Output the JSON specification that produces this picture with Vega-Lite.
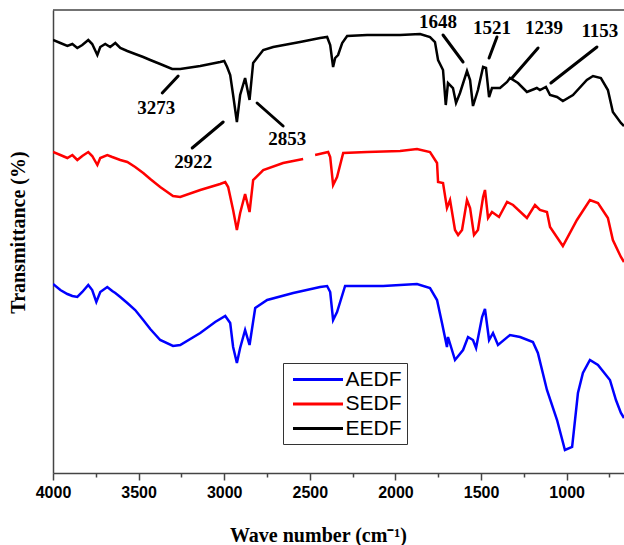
{
  "$schema": "https://vega.github.io/schema/vega-lite/v6.json",
  "autosize": "none",
  "width": 571,
  "height": 463,
  "padding": {"left": 53, "top": 10, "right": 0, "bottom": 72},
  "background": "white",
  "config": {
    "view": {"stroke": null},
    "axis": {"domainColor": "#444", "domainWidth": 1.5, "grid": false}
  },
  "datasets": {
    "spectra": [
      {"w":4000,"t":433,"s":"EEDF"},{"w":3957,"t":430,"s":"EEDF"},{"w":3916,"t":427,"s":"EEDF"},{"w":3887,"t":429,"s":"EEDF"},{"w":3858,"t":425,"s":"EEDF"},{"w":3829,"t":428,"s":"EEDF"},{"w":3794,"t":433,"s":"EEDF"},{"w":3771,"t":429,"s":"EEDF"},{"w":3741,"t":418,"s":"EEDF"},{"w":3724,"t":426,"s":"EEDF"},{"w":3695,"t":429,"s":"EEDF"},{"w":3666,"t":426,"s":"EEDF"},{"w":3636,"t":430,"s":"EEDF"},{"w":3607,"t":425,"s":"EEDF"},{"w":3566,"t":422,"s":"EEDF"},{"w":3520,"t":419,"s":"EEDF"},{"w":3473,"t":416,"s":"EEDF"},{"w":3432,"t":413,"s":"EEDF"},{"w":3374,"t":409,"s":"EEDF"},{"w":3304,"t":404,"s":"EEDF"},{"w":3257,"t":404,"s":"EEDF"},{"w":3140,"t":407,"s":"EEDF"},{"w":3024,"t":411,"s":"EEDF"},{"w":3000,"t":412,"s":"EEDF"},{"w":2983,"t":406,"s":"EEDF"},{"w":2965,"t":398,"s":"EEDF"},{"w":2948,"t":378,"s":"EEDF"},{"w":2926,"t":351,"s":"EEDF"},{"w":2907,"t":378,"s":"EEDF"},{"w":2878,"t":395,"s":"EEDF"},{"w":2852,"t":373,"s":"EEDF"},{"w":2831,"t":410,"s":"EEDF"},{"w":2772,"t":423,"s":"EEDF"},{"w":2714,"t":426,"s":"EEDF"},{"w":2557,"t":431,"s":"EEDF"},{"w":2440,"t":435,"s":"EEDF"},{"w":2399,"t":436,"s":"EEDF"},{"w":2381,"t":428,"s":"EEDF"},{"w":2364,"t":406,"s":"EEDF"},{"w":2352,"t":415,"s":"EEDF"},{"w":2335,"t":418,"s":"EEDF"},{"w":2311,"t":430,"s":"EEDF"},{"w":2282,"t":437,"s":"EEDF"},{"w":2165,"t":438,"s":"EEDF"},{"w":1973,"t":438,"s":"EEDF"},{"w":1856,"t":439,"s":"EEDF"},{"w":1798,"t":436,"s":"EEDF"},{"w":1769,"t":431,"s":"EEDF"},{"w":1751,"t":413,"s":"EEDF"},{"w":1722,"t":403,"s":"EEDF"},{"w":1706,"t":368,"s":"EEDF"},{"w":1693,"t":390,"s":"EEDF"},{"w":1664,"t":385,"s":"EEDF"},{"w":1646,"t":370,"s":"EEDF"},{"w":1623,"t":380,"s":"EEDF"},{"w":1582,"t":402,"s":"EEDF"},{"w":1564,"t":393,"s":"EEDF"},{"w":1547,"t":367,"s":"EEDF"},{"w":1518,"t":383,"s":"EEDF"},{"w":1488,"t":406,"s":"EEDF"},{"w":1471,"t":405,"s":"EEDF"},{"w":1453,"t":376,"s":"EEDF"},{"w":1436,"t":385,"s":"EEDF"},{"w":1389,"t":385,"s":"EEDF"},{"w":1348,"t":391,"s":"EEDF"},{"w":1331,"t":395,"s":"EEDF"},{"w":1284,"t":390,"s":"EEDF"},{"w":1232,"t":381,"s":"EEDF"},{"w":1174,"t":385,"s":"EEDF"},{"w":1156,"t":383,"s":"EEDF"},{"w":1121,"t":386,"s":"EEDF"},{"w":1097,"t":378,"s":"EEDF"},{"w":1056,"t":376,"s":"EEDF"},{"w":1022,"t":372,"s":"EEDF"},{"w":963,"t":378,"s":"EEDF"},{"w":882,"t":393,"s":"EEDF"},{"w":846,"t":397,"s":"EEDF"},{"w":800,"t":395,"s":"EEDF"},{"w":759,"t":383,"s":"EEDF"},{"w":730,"t":361,"s":"EEDF"},{"w":683,"t":350,"s":"EEDF"},{"w":665,"t":347,"s":"EEDF"},
      {"w":4000,"t":321,"s":"SEDF"},{"w":3957,"t":318,"s":"SEDF"},{"w":3916,"t":315,"s":"SEDF"},{"w":3887,"t":318,"s":"SEDF"},{"w":3858,"t":313,"s":"SEDF"},{"w":3829,"t":317,"s":"SEDF"},{"w":3794,"t":321,"s":"SEDF"},{"w":3771,"t":317,"s":"SEDF"},{"w":3741,"t":308,"s":"SEDF"},{"w":3724,"t":315,"s":"SEDF"},{"w":3683,"t":318,"s":"SEDF"},{"w":3654,"t":316,"s":"SEDF"},{"w":3607,"t":313,"s":"SEDF"},{"w":3566,"t":311,"s":"SEDF"},{"w":3520,"t":306,"s":"SEDF"},{"w":3473,"t":300,"s":"SEDF"},{"w":3432,"t":294,"s":"SEDF"},{"w":3374,"t":286,"s":"SEDF"},{"w":3299,"t":277,"s":"SEDF"},{"w":3257,"t":276,"s":"SEDF"},{"w":3140,"t":283,"s":"SEDF"},{"w":3024,"t":289,"s":"SEDF"},{"w":2994,"t":291,"s":"SEDF"},{"w":2977,"t":286,"s":"SEDF"},{"w":2948,"t":263,"s":"SEDF"},{"w":2926,"t":243,"s":"SEDF"},{"w":2907,"t":260,"s":"SEDF"},{"w":2878,"t":279,"s":"SEDF"},{"w":2852,"t":261,"s":"SEDF"},{"w":2831,"t":293,"s":"SEDF"},{"w":2772,"t":303,"s":"SEDF"},{"w":2656,"t":310,"s":"SEDF"},{"w":2539,"t":314,"s":"SEDF"},{"w":2505,"t":null,"s":"SEDF"},{"w":2469,"t":318,"s":"SEDF"},{"w":2393,"t":321,"s":"SEDF"},{"w":2381,"t":316,"s":"SEDF"},{"w":2364,"t":288,"s":"SEDF"},{"w":2341,"t":296,"s":"SEDF"},{"w":2305,"t":320,"s":"SEDF"},{"w":2165,"t":321,"s":"SEDF"},{"w":1973,"t":322,"s":"SEDF"},{"w":1874,"t":324,"s":"SEDF"},{"w":1798,"t":321,"s":"SEDF"},{"w":1757,"t":310,"s":"SEDF"},{"w":1751,"t":291,"s":"SEDF"},{"w":1722,"t":290,"s":"SEDF"},{"w":1699,"t":265,"s":"SEDF"},{"w":1681,"t":273,"s":"SEDF"},{"w":1652,"t":243,"s":"SEDF"},{"w":1634,"t":238,"s":"SEDF"},{"w":1611,"t":243,"s":"SEDF"},{"w":1582,"t":273,"s":"SEDF"},{"w":1564,"t":265,"s":"SEDF"},{"w":1541,"t":238,"s":"SEDF"},{"w":1518,"t":243,"s":"SEDF"},{"w":1488,"t":276,"s":"SEDF"},{"w":1477,"t":283,"s":"SEDF"},{"w":1459,"t":255,"s":"SEDF"},{"w":1436,"t":261,"s":"SEDF"},{"w":1395,"t":256,"s":"SEDF"},{"w":1348,"t":271,"s":"SEDF"},{"w":1313,"t":268,"s":"SEDF"},{"w":1232,"t":255,"s":"SEDF"},{"w":1185,"t":268,"s":"SEDF"},{"w":1156,"t":263,"s":"SEDF"},{"w":1115,"t":261,"s":"SEDF"},{"w":1097,"t":246,"s":"SEDF"},{"w":1022,"t":227,"s":"SEDF"},{"w":940,"t":253,"s":"SEDF"},{"w":864,"t":273,"s":"SEDF"},{"w":817,"t":270,"s":"SEDF"},{"w":759,"t":255,"s":"SEDF"},{"w":730,"t":233,"s":"SEDF"},{"w":683,"t":216,"s":"SEDF"},{"w":665,"t":211,"s":"SEDF"},
      {"w":4000,"t":189,"s":"AEDF"},{"w":3957,"t":183,"s":"AEDF"},{"w":3916,"t":179,"s":"AEDF"},{"w":3887,"t":177,"s":"AEDF"},{"w":3858,"t":176,"s":"AEDF"},{"w":3829,"t":181,"s":"AEDF"},{"w":3794,"t":188,"s":"AEDF"},{"w":3771,"t":183,"s":"AEDF"},{"w":3747,"t":171,"s":"AEDF"},{"w":3724,"t":181,"s":"AEDF"},{"w":3683,"t":186,"s":"AEDF"},{"w":3654,"t":182,"s":"AEDF"},{"w":3636,"t":180,"s":"AEDF"},{"w":3607,"t":176,"s":"AEDF"},{"w":3566,"t":170,"s":"AEDF"},{"w":3520,"t":163,"s":"AEDF"},{"w":3473,"t":153,"s":"AEDF"},{"w":3432,"t":144,"s":"AEDF"},{"w":3374,"t":133,"s":"AEDF"},{"w":3299,"t":127,"s":"AEDF"},{"w":3257,"t":128,"s":"AEDF"},{"w":3140,"t":140,"s":"AEDF"},{"w":3053,"t":151,"s":"AEDF"},{"w":2994,"t":157,"s":"AEDF"},{"w":2965,"t":150,"s":"AEDF"},{"w":2948,"t":126,"s":"AEDF"},{"w":2926,"t":110,"s":"AEDF"},{"w":2907,"t":125,"s":"AEDF"},{"w":2878,"t":143,"s":"AEDF"},{"w":2852,"t":128,"s":"AEDF"},{"w":2819,"t":165,"s":"AEDF"},{"w":2749,"t":173,"s":"AEDF"},{"w":2597,"t":180,"s":"AEDF"},{"w":2440,"t":186,"s":"AEDF"},{"w":2399,"t":187,"s":"AEDF"},{"w":2381,"t":181,"s":"AEDF"},{"w":2364,"t":153,"s":"AEDF"},{"w":2341,"t":161,"s":"AEDF"},{"w":2294,"t":187,"s":"AEDF"},{"w":2072,"t":187,"s":"AEDF"},{"w":1874,"t":189,"s":"AEDF"},{"w":1798,"t":185,"s":"AEDF"},{"w":1757,"t":173,"s":"AEDF"},{"w":1728,"t":150,"s":"AEDF"},{"w":1699,"t":126,"s":"AEDF"},{"w":1693,"t":136,"s":"AEDF"},{"w":1652,"t":113,"s":"AEDF"},{"w":1605,"t":123,"s":"AEDF"},{"w":1576,"t":136,"s":"AEDF"},{"w":1547,"t":133,"s":"AEDF"},{"w":1529,"t":125,"s":"AEDF"},{"w":1494,"t":156,"s":"AEDF"},{"w":1477,"t":164,"s":"AEDF"},{"w":1453,"t":133,"s":"AEDF"},{"w":1430,"t":140,"s":"AEDF"},{"w":1401,"t":128,"s":"AEDF"},{"w":1331,"t":138,"s":"AEDF"},{"w":1272,"t":136,"s":"AEDF"},{"w":1197,"t":131,"s":"AEDF"},{"w":1168,"t":120,"s":"AEDF"},{"w":1115,"t":83,"s":"AEDF"},{"w":1056,"t":53,"s":"AEDF"},{"w":1010,"t":23,"s":"AEDF"},{"w":968,"t":26,"s":"AEDF"},{"w":934,"t":80,"s":"AEDF"},{"w":905,"t":100,"s":"AEDF"},{"w":864,"t":113,"s":"AEDF"},{"w":817,"t":108,"s":"AEDF"},{"w":747,"t":93,"s":"AEDF"},{"w":712,"t":73,"s":"AEDF"},{"w":683,"t":60,"s":"AEDF"},{"w":665,"t":55,"s":"AEDF"}
    ],
    "leaders": [
      {"x1":3362,"y1":380,"x2":3269,"y2":397},
      {"x1":3187,"y1":325,"x2":3006,"y2":351},
      {"x1":2808,"y1":370,"x2":2656,"y2":347},
      {"x1":1722,"y1":438,"x2":1605,"y2":411},
      {"x1":1407,"y1":436,"x2":1453,"y2":415},
      {"x1":1167,"y1":425,"x2":1319,"y2":395},
      {"x1":823,"y1":426,"x2":1092,"y2":390}
    ],
    "labels": [
      {"w":3397,"t":365,"label":"3273"},
      {"w":3181,"t":311,"label":"2922"},
      {"w":2632,"t":334,"label":"2853"},
      {"w":1751,"t":451,"label":"1648"},
      {"w":1436,"t":445,"label":"1521"},
      {"w":1132,"t":445,"label":"1239"},
      {"w":806,"t":442,"label":"1153"}
    ],
    "frame": [{"t": 463}]
  },
  "resolve": {"axis": {"x": "independent", "y": "independent"}},
  "layer": [
    {
      "data": {"name": "spectra"},
      "mark": {"type": "line", "strokeWidth": 2.5, "clip": true, "invalid": "break-paths-filter-domains"},
      "encoding": {
        "x": {
          "field": "w", "type": "quantitative",
          "scale": {"domain": [665, 4000], "reverse": true, "nice": false, "zero": false},
          "axis": {
            "orient": "bottom",
            "values": [4000, 3750, 3500, 3250, 3000, 2750, 2500, 2250, 2000, 1750, 1500, 1250, 1000, 750],
            "format": "d",
            "labelExpr": "datum.value % 500 == 0 ? datum.label : ''",
            "labelFlush": false,
            "labelOverlap": false,
            "labelFont": "Liberation Sans",
            "labelFontWeight": "bold",
            "labelFontSize": 16,
            "labelColor": "#000",
            "labelPadding": 4,
            "tickColor": "#444",
            "tickWidth": 1.5,
            "tickSize": {"condition": {"test": "datum.value % 500 == 0", "value": 7}, "value": 4},
            "title": "Wave number (cm⁻¹)",
            "titleFont": "Liberation Serif",
            "titleFontWeight": "bold",
            "titleFontSize": 20,
            "titleColor": "#000",
            "titleX": 265,
            "titleY": 62,
            "titleBaseline": "middle"
          }
        },
        "y": {
          "field": "t", "type": "quantitative",
          "scale": {"domain": [0, 463], "nice": false, "zero": false},
          "axis": {
            "orient": "left",
            "labels": false, "ticks": false, "domain": true,
            "title": "Transmittance (%)",
            "titleFont": "Liberation Serif",
            "titleFontWeight": "bold",
            "titleFontSize": 20,
            "titleColor": "#000",
            "titleX": -35,
            "titleY": 222,
            "titleBaseline": "middle"
          }
        },
        "color": {
          "field": "s", "type": "nominal",
          "scale": {"domain": ["AEDF", "SEDF", "EEDF"], "range": ["#0000FF", "#FF0000", "#000000"]},
          "legend": {
            "orient": "none", "legendX": 230, "legendY": 353,
            "title": null,
            "symbolType": "M-2.5,0H2.5", "symbolSize": 400, "symbolStrokeWidth": 3,
            "symbolOffset": 18.5,
            "labelFont": "Liberation Sans", "labelFontSize": 21, "labelColor": "#000",
            "labelOffset": 16,
            "strokeColor": "#333", "padding": 5, "rowPadding": 2.5
          }
        }
      }
    },
    {
      "data": {"name": "leaders"},
      "mark": {"type": "rule", "strokeWidth": 3, "color": "#000", "strokeCap": "round"},
      "encoding": {
        "x": {"field": "x1", "type": "quantitative", "scale": {"domain": [665, 4000], "reverse": true, "nice": false, "zero": false}, "axis": null},
        "x2": {"field": "x2"},
        "y": {"field": "y1", "type": "quantitative", "scale": {"domain": [0, 463], "nice": false, "zero": false}, "axis": null},
        "y2": {"field": "y2"}
      }
    },
    {
      "data": {"name": "labels"},
      "mark": {"type": "text", "font": "Liberation Serif", "fontWeight": "bold", "fontSize": 19, "color": "#000", "baseline": "middle", "align": "center"},
      "encoding": {
        "x": {"field": "w", "type": "quantitative", "scale": {"domain": [665, 4000], "reverse": true, "nice": false, "zero": false}, "axis": null},
        "y": {"field": "t", "type": "quantitative", "scale": {"domain": [0, 463], "nice": false, "zero": false}, "axis": null},
        "text": {"field": "label"}
      }
    },
    {
      "data": {"name": "frame"},
      "mark": {"type": "rule", "strokeWidth": 1.5, "color": "#444"},
      "encoding": {
        "y": {"field": "t", "type": "quantitative", "scale": {"domain": [0, 463], "nice": false, "zero": false}, "axis": null}
      }
    }
  ]
}
